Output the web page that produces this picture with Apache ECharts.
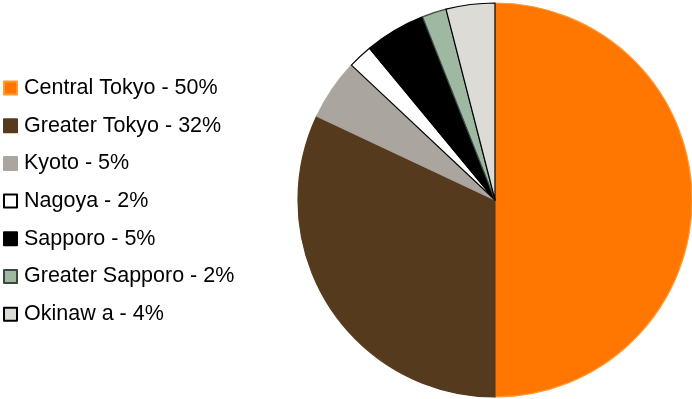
<!DOCTYPE html>
<html>
<head>
<meta charset="utf-8">
<style>
  html, body { margin: 0; padding: 0; background: #ffffff; }
  #chart { width: 692px; height: 399px; }
</style>
<script src="https://cdn.jsdelivr.net/npm/echarts@6/dist/echarts.min.js"></script>
</head>
<body>
<div id="chart"></div>
<script>
// Share of locations (percent)
const regions = ['Central Tokyo', 'Greater Tokyo', 'Kyoto', 'Nagoya', 'Sapporo', 'Greater Sapporo', 'Okinaw a'];
const shares = [50, 32, 5, 2, 5, 2, 4];
const fills = ['#FF7700', '#553A1E', '#ABA59F', '#FFFFFF', '#000000', '#9FB8A2', '#DDDBD6'];
const edges = ['#FF9A33', '#553A1E', '#ABA59F', '#000000', '#000000', '#3A4A3C', '#000000'];

const labelOf = {};
regions.forEach((r, i) => { labelOf[r] = r + ' - ' + shares[i] + '%'; });

const chart = echarts.init(document.getElementById('chart'), null, { renderer: 'canvas' });
chart.setOption({
  animation: false,
  legend: {
    orient: 'vertical',
    left: 3,
    top: 77,
    padding: 0,
    icon: 'rect',
    itemWidth: 13,
    itemHeight: 13,
    itemGap: 15.7,
    selectedMode: false,
    textStyle: {
      fontFamily: 'Liberation Sans, Arial, sans-serif',
      fontSize: 21.5,
      lineHeight: 22,
      color: '#000000',
      padding: [0, 0, 0, 2]
    },
    formatter: name => labelOf[name]
  },
  series: [{
    type: 'pie',
    center: [495, 200],
    radius: 197,
    startAngle: 90,
    clockwise: true,
    label: { show: false },
    labelLine: { show: false },
    emphasis: { disabled: true },
    data: regions.map((r, i) => ({
      name: r,
      value: shares[i],
      itemStyle: { color: fills[i], borderColor: edges[i], borderWidth: 1.2 }
    }))
  }]
});
</script>
</body>
</html>
